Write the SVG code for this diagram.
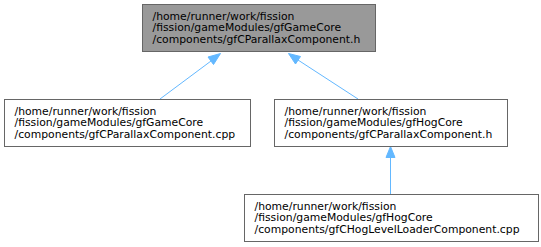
<svg xmlns="http://www.w3.org/2000/svg" width="541" height="247" viewBox="0 0 541 247">
<defs>
<style>
.box{fill:#ffffff;stroke:#666666;stroke-width:1}
.root{fill:#999999;stroke:#666666;stroke-width:1}
text{font-family:"DejaVu Sans",sans-serif;font-size:10.8px;fill:#000000}
.edge{stroke:#63b8ff;stroke-width:1;fill:none}
.head{fill:#63b8ff;stroke:#63b8ff;stroke-width:1}
</style>
</defs>
<g id="connectors">
<line class="edge" x1="160" y1="99" x2="211" y2="61"/>
<polygon class="head" points="220.5,53.5 208,57 213.5,64.5"/>
<line class="edge" x1="358" y1="99" x2="298" y2="60"/>
<polygon class="head" points="288.5,53.5 295.5,64 300.5,56.5"/>
<line class="edge" x1="390.5" y1="194" x2="390.5" y2="157"/>
<polygon class="head" points="390.5,146.5 386,157.5 395,157.5"/>
</g>
<g id="node1">
<rect class="root" x="142.5" y="4.5" width="233" height="47"/>
<text x="152.5" y="19.5">/home/runner/work/fission</text>
<text x="152.5" y="31">/fission/gameModules/gfGameCore</text>
<text x="152.5" y="42.5">/components/gfCParallaxComponent.h</text>
</g>
<g id="node2">
<rect class="box" x="4.5" y="99.5" width="246" height="47"/>
<text x="14.5" y="114.5">/home/runner/work/fission</text>
<text x="14.5" y="126">/fission/gameModules/gfGameCore</text>
<text x="14.5" y="137.5">/components/gfCParallaxComponent.cpp</text>
</g>
<g id="node3">
<rect class="box" x="274.5" y="99.5" width="233" height="47"/>
<text x="284.5" y="114.5">/home/runner/work/fission</text>
<text x="284.5" y="126">/fission/gameModules/gfHogCore</text>
<text x="284.5" y="137.5">/components/gfCParallaxComponent.h</text>
</g>
<g id="node4">
<rect class="box" x="244.5" y="194.5" width="294" height="47"/>
<text x="254.5" y="209.5">/home/runner/work/fission</text>
<text x="254.5" y="221">/fission/gameModules/gfHogCore</text>
<text x="254.5" y="232.5">/components/gfCHogLevelLoaderComponent.cpp</text>
</g>
</svg>
